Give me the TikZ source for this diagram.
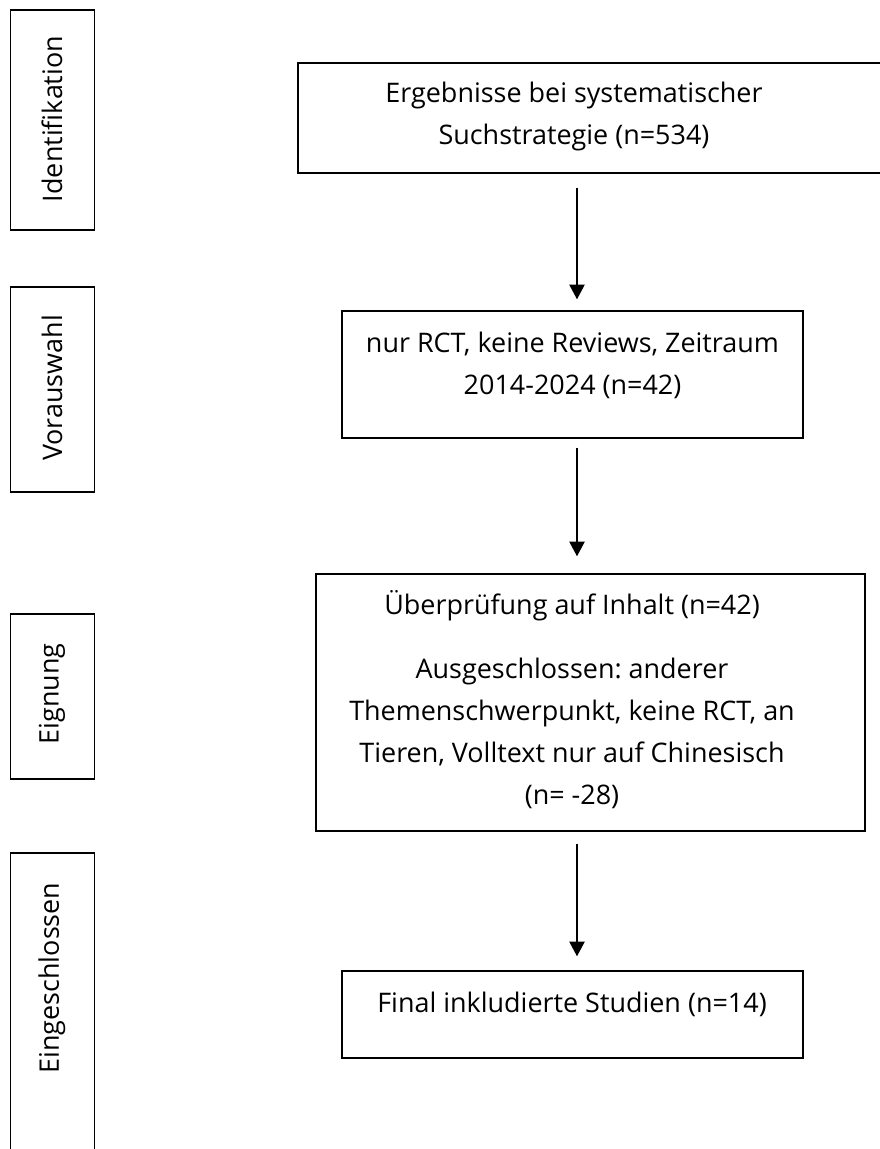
\documentclass[tikz,border=0pt]{standalone}
\usepackage{fontspec}
\setmainfont{Open Sans}
\usetikzlibrary{arrows.meta}

\tikzset{
  box/.style={draw,line width=1.1pt,rectangle,inner sep=0pt},
  txt/.style={align=center,font=\fontsize{20.2}{31.5}\selectfont\frenchspacing},
  arr/.style={line width=1pt,-{Triangle[length=11pt,width=11.5pt]}}
}

\begin{document}
\begin{tikzpicture}[x=0.75pt,y=-0.75pt]
  % page frame, pixel coordinates of the original
  \useasboundingbox (0,0) rectangle (880,1149);
  \clip (0,0) rectangle (880,1149);

  %% phases on the left
  \foreach \n/\y/\h/\ty/\t in {id/120/220/119/Identifikation,
                               pre/389.5/205/388/Vorauswahl,
                               elig/696.5/165/694/Eignung,
                               incl/1014/322/978/Eingeschlossen}
  {
    \node[box,minimum width=84*0.75pt,minimum height=\h*0.75pt] (\n) at (52.5,\y) {};
    \node[txt,rotate=90] (\n txt) at (52,\ty) {\t};
  }

  %% the flow
  \node[box,minimum width=602*0.75pt,minimum height=110*0.75pt] (search) at (599,118) {};
  \node[txt] (searchtxt) at (574,117) {Ergebnisse bei systematischer\\Suchstrategie (n=534)};

  \node[box,minimum width=461*0.75pt,minimum height=127*0.75pt] (select) at (572.5,374.5) {};
  \node[txt] (selecttxt) at (572.5,365) {nur RCT, keine Reviews, Zeitraum\\2014-2024 (n=42)};

  \node[box,minimum width=549*0.75pt,minimum height=257*0.75pt] (screen) at (590.5,702.5) {};
  \node[txt] (screentxt) at (572,699.5) {Überprüfung auf Inhalt (n=42)\\[17pt]
    Ausgeschlossen: anderer\\Themenschwerpunkt, keine RCT, an\\
    Tieren, Volltext nur auf Chinesisch\\(n= -28)};

  \node[box,minimum width=461*0.75pt,minimum height=87*0.75pt] (final) at (572.5,1014.5) {};
  \node[txt] (finaltxt) at (572,1004) {Final inkludierte Studien (n=14)};

  % arrows, all on one line
  \coordinate (axis) at (577,0);
  \draw[arr,shorten <=14*0.75pt,shorten >=11*0.75pt] (search.south -| axis) -- (select.north -| axis);
  \draw[arr,shorten <=9*0.75pt,shorten >=17*0.75pt] (select.south -| axis) -- (screen.north -| axis);
  \draw[arr,shorten <=12*0.75pt,shorten >=14*0.75pt] (screen.south -| axis) -- (final.north -| axis);
\end{tikzpicture}
\end{document}
